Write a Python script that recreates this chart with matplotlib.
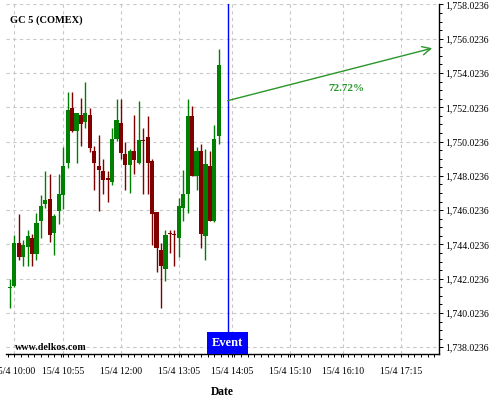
import matplotlib
matplotlib.use("Agg")
import matplotlib.pyplot as plt
from matplotlib.patches import Rectangle
from matplotlib.ticker import FixedLocator, MultipleLocator, FuncFormatter
import matplotlib.transforms as mtransforms

plt.rcParams["font.family"] = ["Liberation Serif", "DejaVu Serif"]

# 5-minute candles, 15/4
times = ["09:55", "10:00", "10:05", "10:10", "10:15", "10:20", "10:25", "10:30",
         "10:35", "10:40", "10:45", "10:50", "10:55", "11:00", "11:05", "11:10",
         "11:15", "11:20", "11:25", "11:30", "11:35", "11:40", "11:45", "11:50",
         "11:55", "12:00", "12:05", "12:10", "12:15", "12:20", "12:25", "12:30",
         "12:35", "12:40", "12:45", "12:50", "12:55", "13:00", "13:05", "13:10",
         "13:15", "13:20", "13:25", "13:30", "13:35", "13:40", "13:45", "13:50"]
opens = [1741.50, 1741.61, 1744.09, 1743.31, 1743.89, 1744.38, 1743.48, 1745.41,
         1746.41, 1746.68, 1744.71, 1746.00, 1746.93, 1748.75, 1752.00, 1750.62,
         1751.59, 1751.14, 1751.59, 1749.49, 1748.61, 1748.32, 1747.91, 1747.69,
         1750.19, 1751.13, 1749.30, 1748.63, 1749.49, 1748.80, 1750.13, 1750.31,
         1748.90, 1745.92, 1743.70, 1742.61, 1744.70, 1744.62, 1744.42, 1746.14,
         1746.97, 1751.54, 1748.03, 1749.49, 1744.54, 1748.61, 1745.39, 1750.33]
highs = [1741.99, 1744.56, 1745.79, 1744.27, 1744.85, 1744.65, 1745.88, 1746.90,
         1748.32, 1748.16, 1745.80, 1748.16, 1749.72, 1752.92, 1752.92, 1751.71,
         1752.57, 1753.52, 1751.96, 1749.76, 1750.41, 1749.00, 1748.32, 1750.79,
         1752.51, 1752.51, 1749.97, 1749.59, 1751.59, 1752.39, 1750.82, 1751.52,
         1749.02, 1745.92, 1744.09, 1744.87, 1744.87, 1744.87, 1746.76, 1748.36,
         1752.51, 1752.10, 1749.68, 1749.88, 1749.59, 1749.49, 1750.99, 1755.44]
lows = [1740.33, 1741.55, 1743.10, 1742.75, 1742.75, 1742.75, 1743.10, 1744.38,
        1746.17, 1744.15, 1743.39, 1745.20, 1746.08, 1748.51, 1750.56, 1748.79,
        1749.76, 1750.82, 1749.43, 1747.19, 1745.96, 1746.96, 1746.51, 1747.50,
        1750.07, 1749.00, 1747.19, 1747.05, 1748.16, 1748.71, 1746.96, 1746.96,
        1743.99, 1742.43, 1740.29, 1741.89, 1743.54, 1742.77, 1743.29, 1745.39,
        1745.88, 1748.03, 1747.19, 1743.80, 1743.10, 1745.39, 1745.34, 1749.88]
closes = [1741.53, 1744.09, 1743.31, 1743.99, 1744.52, 1743.48, 1745.28, 1746.25,
          1746.62, 1744.59, 1745.69, 1746.97, 1748.61, 1751.89, 1750.62, 1751.71,
          1751.03, 1751.71, 1749.62, 1748.75, 1748.36, 1747.81, 1747.81, 1750.19,
          1751.30, 1749.33, 1748.63, 1749.49, 1748.92, 1750.13, 1750.07, 1748.80,
          1745.82, 1743.83, 1742.77, 1744.58, 1744.62, 1744.56, 1746.27, 1746.97,
          1751.54, 1748.03, 1749.49, 1744.62, 1748.71, 1745.39, 1750.19, 1754.52]

tick_times = ["10:00", "10:55", "12:00", "13:05", "14:05", "15:10", "16:10", "17:15"]
event_time = "14:00"
forecast_end = ("17:50", 1755.47)
forecast_start_price = 1752.41
forecast_label = "72.72%"
symbol = "GC 5 (COMEX)"

GREEN, RED = "#008000", "#800000"
ARROW_GREEN = "#2a962a"


def to_min(t):
    # minutes after 10:00
    h, m = t.split(":")
    return (int(h) - 10) * 60 + int(m)


x = [to_min(t) for t in times]

fig = plt.figure(figsize=(5, 4), dpi=100)
ax = fig.add_axes([0.012, 0.115, 0.866, 0.875])

# --- candles ---
body_w = 4.7
for xi, o, h, l, c in zip(x, opens, highs, lows, closes):
    col = GREEN if c >= o else RED
    ax.vlines(xi, l, h, color=col, lw=1.0, zorder=3)
    lo, hi = min(o, c), max(o, c)
    ax.add_patch(Rectangle((xi - body_w / 2, lo), body_w, max(hi - lo, 0.06),
                           facecolor=col, edgecolor="none", zorder=4))

# --- event line + box ---
ev = to_min(event_time)
ax.axvline(ev, color="#0000ff", lw=1.0, zorder=5)
blend = mtransforms.blended_transform_factory(ax.transData, ax.transAxes)
ax.add_patch(Rectangle((ev - 23, 0), 46, 0.063, transform=blend,
                       facecolor="#0000ff", edgecolor="none", zorder=6, clip_on=False))
ax.text(ev, 0.031, "Event", transform=blend, ha="center", va="center",
        color="white", fontsize=9, fontweight="bold", zorder=7)

# --- forecast arrow ---
ax.annotate("", xy=(to_min(forecast_end[0]), forecast_end[1]),
            xytext=(ev, forecast_start_price),
            arrowprops=dict(arrowstyle="->", color=ARROW_GREEN, lw=1.0,
                            mutation_scale=15, shrinkA=0, shrinkB=0), zorder=6)
ax.text(374, 1753.10, forecast_label, ha="center", va="center",
        color=ARROW_GREEN, fontsize=8, fontweight="bold")

# --- texts ---
ax.text(0.009, 0.954, symbol, transform=ax.transAxes, ha="left", va="center",
        fontsize=7.5, fontweight="bold")
ax.text(0.021, 0.006, "www.delkos.com", transform=ax.transAxes, ha="left",
        va="bottom", fontsize=7.2, fontweight="bold")

# --- axes ---
ax.set_xlim(-9.3, 477.7)
ax.set_ylim(1737.63, 1758.05)

ax.xaxis.set_major_locator(FixedLocator([to_min(t) for t in tick_times]))
ax.set_xticklabels(["15/4 " + t for t in tick_times])
ax.xaxis.set_minor_locator(MultipleLocator(7.5))

yt = [1738.0236 + 2 * k for k in range(11)]
ax.yaxis.set_major_locator(FixedLocator(yt))
ax.yaxis.set_minor_locator(FixedLocator([1737.5236 + 0.5 * k for k in range(43)]))
ax.yaxis.set_major_formatter(FuncFormatter(lambda v, p: f"{v:,.4f}"))
ax.yaxis.tick_right()

ax.tick_params(axis="x", which="both", direction="out", length=2.5, width=0.7,
               labelsize=7, pad=7)
ax.tick_params(axis="y", which="major", direction="out", length=3, width=0.7,
               labelsize=7, pad=1.5)
ax.tick_params(axis="y", which="minor", direction="out", length=2, width=0.7)

for s in ["top", "left"]:
    ax.spines[s].set_visible(False)
ax.spines["bottom"].set_linewidth(1.0)
ax.spines["right"].set_linewidth(1.0)

ax.grid(True, which="major", color="#c8c8c8", ls=(0, (3, 3)), lw=0.8)
ax.set_axisbelow(True)

ax.set_xlabel("Date", fontsize=8.3, fontweight="bold", labelpad=7)

fig.savefig("out.png", dpi=100)
